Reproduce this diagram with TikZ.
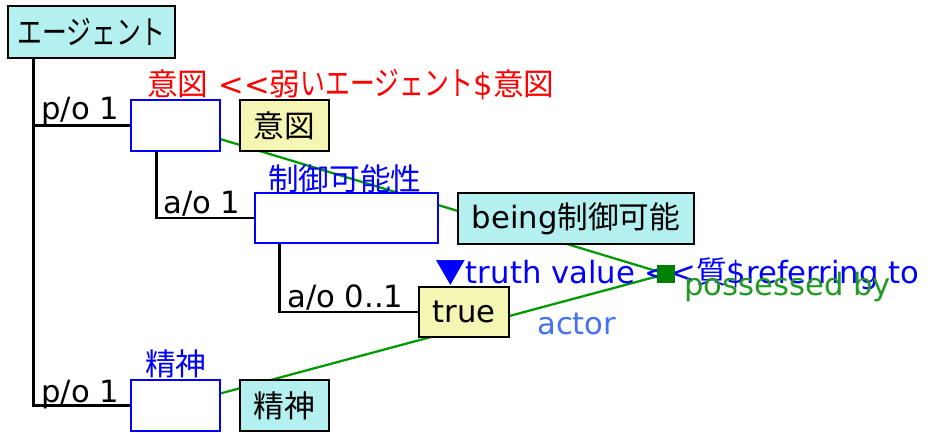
\documentclass[tikz,border=0pt]{standalone}
\usepackage{fontspec}
\setmainfont{DejaVu Sans}
\newfontfamily\jp{Noto Sans CJK JP}
\newfontfamily\kana{Noto Sans CJK JP}[FakeStretch=0.75,Scale=1.08]
\usetikzlibrary{backgrounds}
\definecolor{cfill}{HTML}{B4F0F0}
\definecolor{yfill}{HTML}{F5F5B4}
\definecolor{rolec}{HTML}{0000FF}
\definecolor{redc}{HTML}{FF0000}
\definecolor{linkc}{HTML}{009900}
\definecolor{sqc}{HTML}{008000}
\definecolor{possc}{HTML}{229922}
\definecolor{actc}{HTML}{4472F0}
\tikzset{
  cbox/.style={draw=black,fill=cfill,line width=2.2pt,inner sep=0pt,
    minimum height=38.25pt,minimum width=66.75pt},
  ybox/.style={cbox,fill=yfill},
  rbox/.style={draw=rolec,fill=white,line width=2.2pt,inner sep=0pt,
    minimum width=66.75pt,minimum height=38.25pt},
  tree/.style={line width=2.2pt,color=black},
  link/.style={line width=1.7pt,color=linkc},
  lbl/.style={anchor=base west,inner sep=0pt}
}

\begin{document}
\begin{tikzpicture}[x=0.75pt,y=-0.75pt,every node/.style={font=\fontsize{23}{27}\selectfont}]
  \useasboundingbox (0,0) rectangle (930,432);
  % concept and role boxes
  \node[cbox,minimum width=125.25pt,minimum height=39pt] (agent) at (91.5,32) {\kana エージェント};
  \node[rbox] (intentr) at (175.5,125.5) {};
  \node[ybox] (intent) at (284.5,125.5) {\jp 意図};
  \node[rbox,minimum width=137.25pt,minimum height=37.5pt] (ctrlr) at (346.5,218) {};
  \node[cbox,minimum width=177pt] (being) at (576,218.5) {being{\jp 制御可能}};
  \node[ybox,minimum width=67.5pt,minimum height=37.5pt] (truev) at (464,312) {true};
  \node[rbox] (mindr) at (175.5,405.5) {};
  \node[cbox] (mind) at (284.5,405.5) {\jp 精神};
  % slot labels
  \node[lbl] (po1) at (41,119) {p/o 1};
  \node[lbl] (po2) at (41,402) {p/o 1};
  \node[lbl] (ao1) at (163,213) {a/o 1};
  \node[lbl] (ao2) at (287,307) {a/o 0..1};
  \node[lbl,text=redc] (intentl) at (147,95) {{\jp 意図} <{}<{\jp 弱}{\kana いエージェント}\${\jp 意図}};
  \node[lbl,text=rolec] (ctrll) at (268,190) {\jp 制御可能性};
  \node[lbl,text=rolec] (mindl) at (145,375) {\jp 精神};
  \node[lbl,text=rolec] (truthl) at (435,283) {{\jp ▼}truth value <{}<{\jp 質}\$referring to};
  \node[lbl,text=possc] (possl) at (684,295) {possessed by};
  \node[lbl,text=actc] (actl) at (537,334) {actor};
  \node[fill=sqc,minimum size=13.5pt,inner sep=0pt] (sq) at (666,274) {};
  % part-of / attribute-of tree
  \foreach \a/\b/\s in {agent/intentr/20.25,agent/mindr/20.25,intentr/ctrlr/20.25,ctrlr/truev/19.5}{%
    \draw[tree] ([xshift=\s pt]\a.south west) |- (\b.west);}
  % relation links behind the boxes
  \begin{scope}[on background layer]
    \draw[link] (intentr.center) -- (sq.center);
    \draw[link] (mindr.center) -- (sq.center);
  \end{scope}
\end{tikzpicture}
\end{document}
